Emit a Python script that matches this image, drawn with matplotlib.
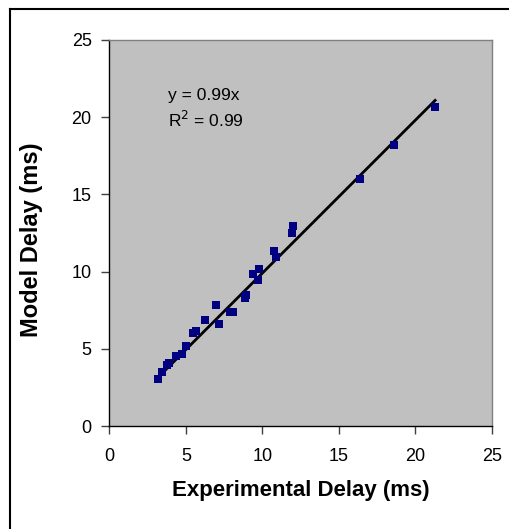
import matplotlib.pyplot as plt
from matplotlib.lines import Line2D

plt.rcParams['font.family'] = ['Liberation Sans', 'DejaVu Sans']

# measured vs model delay (ms)
exp_delay = [3.19, 3.46, 3.78, 3.92, 4.35, 4.72, 5.01, 5.44, 5.66, 6.27,
             6.99, 7.17, 7.89, 8.10, 8.87, 8.93, 9.41, 9.74, 9.78, 10.77,
             10.90, 11.96, 12.03, 16.39, 18.64, 21.30]
model_delay = [3.02, 3.50, 3.95, 4.06, 4.55, 4.66, 5.18, 6.00, 6.17, 6.87,
               7.84, 6.61, 7.40, 7.40, 8.27, 8.48, 9.84, 9.46, 10.15, 11.35,
               10.92, 12.48, 12.95, 15.98, 18.18, 20.68]
slope = 0.99
ticks = [0, 5, 10, 15, 20, 25]

fig = plt.figure(figsize=(5.09, 5.29), dpi=100)
ax = fig.add_axes([0.215, 0.1947, 0.751, 0.7297])
ax.set_facecolor('#c0c0c0')

x_fit = [min(exp_delay), max(exp_delay)]
ax.plot(x_fit, [slope * v for v in x_fit], color='black', lw=2, zorder=2)
ax.plot(exp_delay, model_delay, 's', color='#000080', markersize=5.2,
        markeredgewidth=0, zorder=3)

ax.set_xlim(0, 25)
ax.set_ylim(0, 25)
ax.set_xticks(ticks)
ax.set_yticks(ticks)
ax.tick_params(direction='out', length=5.8, width=1, labelsize=13, color='#404040')
ax.tick_params(axis='x', pad=10)
ax.tick_params(axis='y', pad=7)
ax.spines['left'].set_color('black')
ax.spines['bottom'].set_color('black')
ax.spines['top'].set_color('#808080')
ax.spines['right'].set_color('#808080')
for s in ax.spines.values():
    s.set_linewidth(1)

ax.set_xlabel('Experimental Delay (ms)', fontsize=16, fontweight='bold', labelpad=11)
ax.set_ylabel('Model Delay (ms)', fontsize=17, fontweight='bold')
ax.yaxis.set_label_coords(-0.175, 0.482)

ax.text(3.8, 21.4, 'y = 0.99x', fontsize=12.5, va='center')
ax.text(3.8, 19.8, 'R$^2$ = 0.99', fontsize=12.5, va='center')

# chart frame (only left and top edges visible)
fig.add_artist(Line2D([10 / 509, 10 / 509], [0, 1 - 9 / 529], color='black', lw=1.5))
fig.add_artist(Line2D([10 / 509, 1], [1 - 9 / 529, 1 - 9 / 529], color='black', lw=1.5))

fig.savefig('out.png', dpi=100)
